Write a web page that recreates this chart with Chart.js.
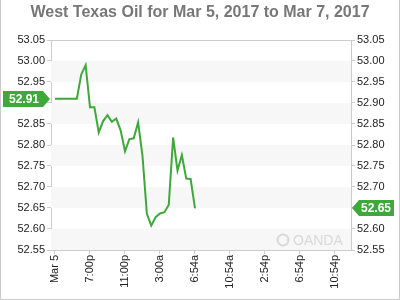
<!DOCTYPE html>
<html>
<head>
<meta charset="utf-8">
<script src="https://cdn.jsdelivr.net/npm/chart.js@4"></script>
<style>
  html, body { margin: 0; padding: 0; background: #fff; }
  #wrap { width: 400px; height: 300px; }
</style>
</head>
<body>
<div id="wrap"><canvas id="oilChart" width="400" height="300"></canvas></div>
<script>
// West Texas Oil, half-hour closes starting Mar 5
const prices = [52.91, 52.91, 52.91, 52.91, 52.91, 52.91, 52.968, 52.99, 52.89, 52.89,
  52.83, 52.857, 52.871, 52.855, 52.863, 52.835, 52.785, 52.814, 52.816, 52.854,
  52.774, 52.636, 52.608, 52.628, 52.637, 52.64, 52.657, 52.818, 52.739, 52.776,
  52.72, 52.719, 52.649];
const tickLabels = ["Mar 5", "7:00p", "11:00p", "3:00a", "6:54a", "10:54a", "2:54p", "6:54p", "10:54p"];
const tickPositions = [0, 8, 16, 24, 32, 40, 48, 56, 64];
const openPrice = 52.91;
const lastPrice = 52.65;

const GREEN = "#3ea83a";
const FONT = "'Liberation Sans', Arial, sans-serif";

const bandsPlugin = {
  id: "bands",
  beforeDatasetsDraw(chart) {
    const { ctx, chartArea: a, scales: { y } } = chart;
    ctx.save();
    ctx.fillStyle = "#f7f7f7";
    for (let v = 53.0; v > 52.56; v -= 0.1) {
      const top = y.getPixelForValue(v);
      const bot = y.getPixelForValue(v - 0.05);
      ctx.fillRect(a.left, top, a.right - a.left, bot - top);
    }
    // top border of the plot
    ctx.strokeStyle = "#ccc";
    ctx.lineWidth = 1;
    ctx.beginPath();
    ctx.moveTo(a.left, a.top + 0.5);
    ctx.lineTo(a.right, a.top + 0.5);
    ctx.stroke();

    // watermark
    ctx.fillStyle = "#d8d8d8";
    ctx.strokeStyle = "#d8d8d8";
    ctx.lineWidth = 2;
    ctx.beginPath();
    ctx.arc(283, 240, 5.5, 0, Math.PI * 2);
    ctx.stroke();
    ctx.font = "14px " + FONT;
    ctx.textBaseline = "middle";
    ctx.fillText("OANDA", 293, 241);
    ctx.restore();
  },
  afterDraw(chart) {
    const { ctx, scales: { y } } = chart;
    ctx.save();
    // outer frame
    ctx.strokeStyle = "#ccc";
    ctx.lineWidth = 1;
    ctx.beginPath();
    ctx.moveTo(0.5, 0);
    ctx.lineTo(0.5, 299.5);
    ctx.lineTo(399.5, 299.5);
    ctx.lineTo(399.5, 0);
    ctx.stroke();

    ctx.font = "bold 12px " + FONT;
    ctx.textBaseline = "middle";
    ctx.textAlign = "center";

    // open price tag on the left
    let py = Math.round(y.getPixelForValue(openPrice));
    ctx.fillStyle = GREEN;
    ctx.beginPath();
    ctx.moveTo(3, py - 8);
    ctx.lineTo(43, py - 8);
    ctx.lineTo(50, py);
    ctx.lineTo(43, py + 8);
    ctx.lineTo(3, py + 8);
    ctx.closePath();
    ctx.fill();
    ctx.fillStyle = "#fff";
    ctx.fillText(openPrice.toFixed(2), 24, py + 1);

    // last price tag on the right
    py = Math.round(y.getPixelForValue(lastPrice));
    ctx.fillStyle = GREEN;
    ctx.beginPath();
    ctx.moveTo(352, py);
    ctx.lineTo(359, py - 8);
    ctx.lineTo(394, py - 8);
    ctx.lineTo(394, py + 8);
    ctx.lineTo(359, py + 8);
    ctx.closePath();
    ctx.fill();
    ctx.fillStyle = "#fff";
    ctx.fillText(lastPrice.toFixed(2), 376, py + 1);
    ctx.restore();
  }
};

const yTicks = {
  stepSize: 0.05,
  padding: 2,
  color: "#222",
  font: { family: FONT, size: 11 },
  callback: v => v.toFixed(2)
};

new Chart(document.getElementById("oilChart"), {
  type: "line",
  data: {
    datasets: [{
      data: prices.map((p, i) => ({ x: i, y: p })),
      borderColor: GREEN,
      borderWidth: 2,
      pointRadius: 0,
      tension: 0,
      fill: false
    }]
  },
  options: {
    responsive: false,
    animation: false,
    layout: { padding: 0 },
    plugins: {
      legend: { display: false },
      tooltip: { enabled: false },
      title: {
        display: true,
        text: "West Texas Oil for Mar 5, 2017 to Mar 7, 2017",
        color: "#777",
        font: { family: FONT, size: 16, weight: "bold", lineHeight: 1.2 },
        padding: { top: 3, bottom: 17.8 }
      }
    },
    scales: {
      x: {
        type: "linear",
        min: -0.914,
        max: 67.66,
        afterBuildTicks: s => { s.ticks = tickPositions.map(v => ({ value: v })); },
        afterFit: s => { s.height = 50; },
        grid: { drawOnChartArea: false, tickLength: 4, color: "#ccc" },
        border: { display: true, color: "#ccc" },
        ticks: {
          autoSkip: false,
          minRotation: 90,
          maxRotation: 90,
          padding: 1,
          color: "#222",
          font: { family: FONT, size: 11 },
          callback: (v, i) => tickLabels[i]
        }
      },
      y: {
        position: "left",
        min: 52.55,
        max: 53.05,
        afterFit: s => { s.width = 51; },
        grid: { drawOnChartArea: false, tickLength: 4, color: "#ccc" },
        border: { display: true, color: "#ccc" },
        ticks: yTicks
      },
      y2: {
        position: "right",
        min: 52.55,
        max: 53.05,
        afterFit: s => { s.width = 49; },
        grid: { drawOnChartArea: false, tickLength: 4, color: "#ccc" },
        border: { display: true, color: "#ccc" },
        ticks: yTicks
      }
    }
  },
  plugins: [bandsPlugin]
});
</script>
</body>
</html>
